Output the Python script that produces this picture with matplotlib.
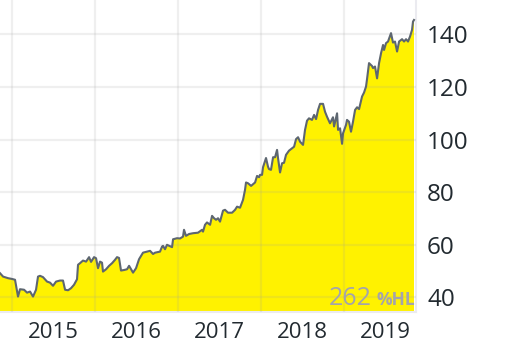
import matplotlib
matplotlib.use('Agg')
import matplotlib.pyplot as plt

# decimal years and price
years = [2014.855, 2014.892, 2014.952, 2015.000, 2015.036, 2015.072, 2015.096,
         2015.145, 2015.181, 2015.217, 2015.253, 2015.289, 2015.313, 2015.337,
         2015.373, 2015.422, 2015.458, 2015.494, 2015.530, 2015.578, 2015.614,
         2015.639, 2015.675, 2015.711, 2015.747, 2015.783, 2015.795, 2015.819,
         2015.855, 2015.892, 2015.928, 2015.952, 2015.988, 2016.012, 2016.036,
         2016.060, 2016.084, 2016.096, 2016.133, 2016.169, 2016.205, 2016.241,
         2016.265, 2016.289, 2016.313, 2016.349, 2016.386, 2016.410, 2016.434,
         2016.458, 2016.494, 2016.530, 2016.578, 2016.627, 2016.663, 2016.699,
         2016.723, 2016.783, 2016.807, 2016.819, 2016.843, 2016.867, 2016.928,
         2016.940, 2016.988, 2017.024, 2017.060, 2017.072, 2017.096, 2017.133,
         2017.181, 2017.241, 2017.289, 2017.301, 2017.325, 2017.349, 2017.386,
         2017.410, 2017.434, 2017.458, 2017.482, 2017.506, 2017.542, 2017.566,
         2017.602, 2017.651, 2017.687, 2017.711, 2017.747, 2017.783, 2017.807,
         2017.819, 2017.843, 2017.880, 2017.928, 2017.952, 2017.976, 2017.988,
         2018.012, 2018.024, 2018.060, 2018.084, 2018.096, 2018.120, 2018.145,
         2018.169, 2018.193, 2018.205, 2018.229, 2018.253, 2018.277, 2018.301,
         2018.337, 2018.373, 2018.398, 2018.422, 2018.446, 2018.470, 2018.506,
         2018.530, 2018.554, 2018.578, 2018.614, 2018.639, 2018.663, 2018.687,
         2018.711, 2018.747, 2018.771, 2018.795, 2018.831, 2018.867, 2018.880,
         2018.916, 2018.928, 2018.952, 2018.976, 2018.988, 2019.024, 2019.036,
         2019.060, 2019.084, 2019.108, 2019.133, 2019.157, 2019.181, 2019.217,
         2019.241, 2019.265, 2019.277, 2019.301, 2019.337, 2019.349, 2019.373,
         2019.398, 2019.422, 2019.446, 2019.470, 2019.482, 2019.506, 2019.530,
         2019.566, 2019.590, 2019.614, 2019.639, 2019.663, 2019.699, 2019.723,
         2019.747, 2019.771, 2019.795, 2019.819, 2019.831, 2019.843]
prices = [49.2, 47.9, 47.3, 47.0, 46.7, 40.3, 43.1,
          42.9, 41.8, 42.2, 40.3, 42.9, 47.9, 48.2,
          47.7, 46.0, 45.6, 44.4, 46.0, 46.4, 46.4,
          42.9, 42.7, 43.5, 44.8, 46.9, 52.4, 53.0,
          54.0, 53.6, 55.3, 53.5, 55.3, 54.9, 51.1,
          53.6, 53.2, 49.8, 50.7, 52.0, 53.0, 54.3,
          55.3, 55.0, 50.2, 50.4, 50.7, 52.0, 50.7,
          49.4, 51.1, 54.5, 57.0, 57.4, 57.7, 56.5,
          57.0, 57.4, 59.3, 59.6, 58.3, 60.0, 59.1,
          62.1, 62.5, 62.4, 63.1, 65.7, 63.4, 64.1,
          64.4, 64.6, 65.7, 65.0, 67.6, 68.5, 67.6,
          71.0, 70.1, 69.5, 70.1, 68.8, 73.0, 73.3,
          72.2, 72.2, 73.3, 74.5, 74.1, 77.1, 80.9,
          83.7, 83.4, 82.4, 83.7, 86.2, 85.7, 86.6,
          86.6, 89.5, 93.0, 89.7, 88.8, 88.5, 93.3,
          93.3, 96.1, 92.9, 87.5, 91.0, 91.2, 94.2,
          95.8, 96.7, 97.3, 100.2, 100.9, 99.2, 98.0,
          103.7, 107.2, 108.1, 107.5, 109.4, 107.8, 111.3,
          113.6, 113.6, 110.6, 108.7, 106.2, 108.5, 105.0,
          110.0, 103.7, 104.3, 98.4, 102.4, 105.6, 107.5,
          106.8, 103.0, 106.8, 111.3, 112.3, 111.6, 116.4,
          117.9, 120.2, 123.0, 129.1, 128.0, 127.2, 127.8,
          123.3, 129.1, 132.9, 136.0, 134.1, 136.7, 137.3,
          140.5, 136.9, 137.3, 133.5, 137.3, 138.2, 137.3,
          138.2, 137.3, 139.2, 141.7, 144.9, 145.5]

year_labels = ['2015', '2016', '2017', '2018', '2019']
y_ticks = [40, 60, 80, 100, 120, 140]

plt.rcParams['font.family'] = ['Open Sans', 'DejaVu Sans']

fig = plt.figure(figsize=(5.12, 3.46), dpi=100)
ax = fig.add_axes([0.0, 0.098, 0.8125, 0.902])

ax.fill_between(years, prices, 0, color='#fff200', lw=0, zorder=1)
ax.plot(years, prices, color='#5d6670', lw=1.5, zorder=3)

ax.set_xlim(2014.855, 2019.867)
ax.set_ylim(34.4, 153.1)

# gridlines at year starts, labels in the middle of each year
starts = [int(y) for y in year_labels]
ax.set_xticks(starts)
ax.set_xticklabels([])
ax.set_xticks([s + 0.5 for s in starts], minor=True)
ax.set_xticklabels(year_labels, minor=True)
ax.set_yticks(y_ticks)
ax.yaxis.tick_right()
ax.grid(True, which='major', color='#a0a0a0', alpha=0.16, lw=1.6, zorder=2)
ax.set_axisbelow(False)

ax.tick_params(axis='x', which='both', length=0, pad=7, labelsize=16,
               labelcolor='#222a30')
ax.tick_params(axis='y', length=0, pad=8, labelsize=17.5, labelcolor='#222a30')

for s in ['top', 'left']:
    ax.spines[s].set_visible(False)
for s in ['bottom', 'right']:
    ax.spines[s].set_color('#ebebf0')
    ax.spines[s].set_linewidth(1.5)

ax.text(0.893, 0.005, '262', transform=ax.transAxes, ha='right', va='bottom',
        fontsize=18, color='#a4a4ac', zorder=4)
ax.text(0.998, 0.01, '%HL', transform=ax.transAxes, ha='right', va='bottom',
        fontsize=12.5, fontweight='bold', color='#a4a4ac', zorder=4)

fig.savefig('out.png', dpi=100)
